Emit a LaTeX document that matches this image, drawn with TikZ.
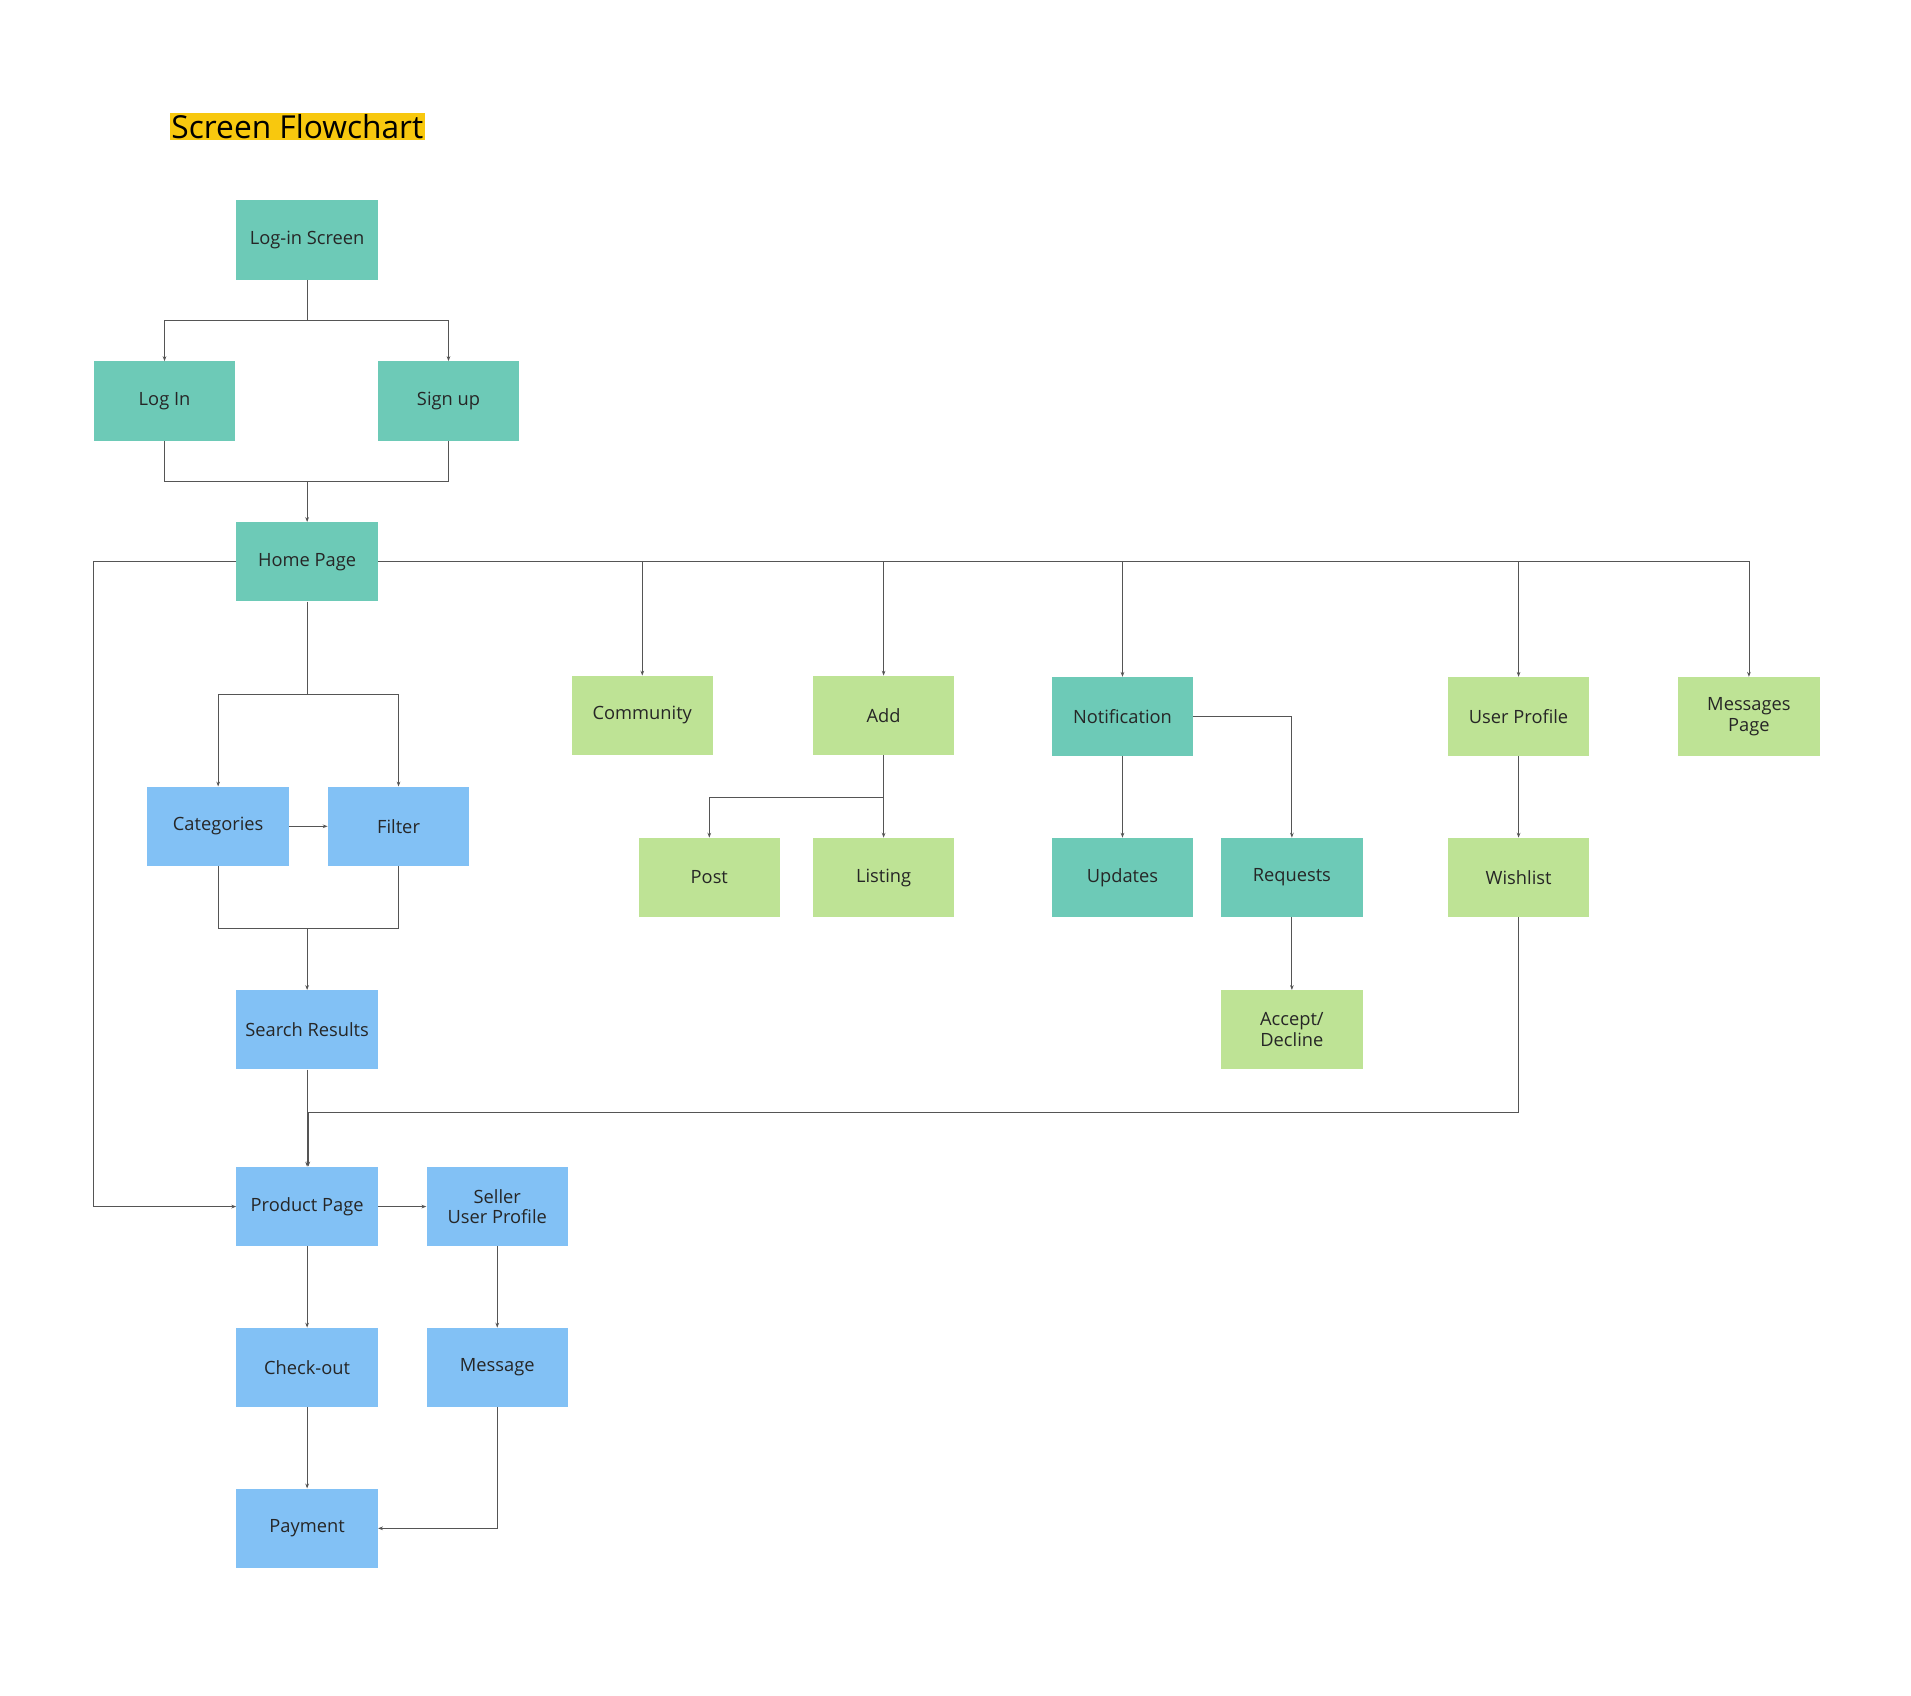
\documentclass[tikz,border=0pt]{standalone}
\usepackage{fontspec}
\setmainfont{Open Sans}
\usetikzlibrary{arrows.meta}
\definecolor{teal1}{HTML}{6DCAB7}
\definecolor{green1}{HTML}{BEE395}
\definecolor{blue1}{HTML}{82C1F5}
\definecolor{ttl}{HTML}{F8C80E}
\definecolor{ln}{HTML}{555555}
\tikzset{
 box/.style={minimum width=116pt,minimum height=65pt,inner sep=2pt,align=center,font=\fontsize{15}{17}\selectfont,text=black!85},
 tb/.style={box,fill=teal1}, gb/.style={box,fill=green1}, bb/.style={box,fill=blue1},
 cn/.style={draw=ln,line width=0.7pt,-{Stealth[length=4pt,width=3pt]}},
 pl/.style={draw=ln,line width=0.7pt}
}
\begin{document}
\begin{tikzpicture}[x=1pt,y=-1pt]
\useasboundingbox[fill=white] (0,0) rectangle (1568,1391);
\node[fill=ttl,inner sep=1pt,font=\fontsize{26}{30}\selectfont] (title) at (244,104) {Screen Flowchart};
\node[tb] (ls) at (252,197) {Log-in Screen};
\node[tb] (li) at (135,329) {Log In};
\node[tb] (su) at (368,329) {Sign up};
\node[tb] (hp) at (252,461) {Home Page};
\node[bb] (cat) at (179,678) {Categories};
\node[bb] (fil) at (327,678) {Filter};
\node[bb] (sr) at (252,845) {Search Results};
\node[bb] (pp) at (252,990) {Product Page};
\node[bb] (sup) at (408,990) {Seller\\User Profile};
\node[bb] (co) at (252,1122) {Check-out};
\node[bb] (msg) at (408,1122) {Message};
\node[bb] (pay) at (252,1254) {Payment};
\node[gb] (com) at (527,587) {Community};
\node[gb] (add) at (725,587) {Add};
\node[tb] (noti) at (921,588) {Notification};
\node[gb] (up) at (1246,588) {User Profile};
\node[gb] (mp) at (1435,588) {Messages\\Page};
\node[gb] (post) at (582,720) {Post};
\node[gb] (lst) at (725,720) {Listing};
\node[tb] (upd) at (921,720) {Updates};
\node[tb] (req) at (1060,720) {Requests};
\node[gb] (wl) at (1246,720) {Wishlist};
\node[gb] (acc) at (1060,845) {Accept/\\Decline};

\draw[cn] (ls.south) -- (252,263) -| (li.north);
\draw[cn] (252,263) -| (su.north);
\draw[pl] (li.south) |- (252,395);
\draw[cn] (su.south) |- (252,395) -- (hp.north);
\draw[cn] (hp.west) -- (77,461) |- (pp.west);
\draw[cn] (hp.east) -- (1435,461) -- (mp.north);
\draw[cn] (527,461) -- (com.north);
\draw[cn] (725,461) -- (add.north);
\draw[cn] (921,461) -- (noti.north);
\draw[cn] (1246,461) -- (up.north);
\draw[cn] (hp.south) -- (252,570) -| (cat.north);
\draw[cn] (252,570) -| (fil.north);
\draw[cn] (cat.east) -- (fil.west);
\draw[pl] (cat.south) |- (252,762);
\draw[cn] (fil.south) |- (252,762) -- (sr.north);
\draw[cn] (sr.south) -- (pp.north);
\draw[cn] (wl.south) |- (253,913) -- (253,957);
\draw[cn] (add.south) -- (725,654) -| (post.north);
\draw[cn] (add.south) -- (lst.north);
\draw[cn] (noti.south) -- (upd.north);
\draw[cn] (noti.east) -| (req.north);
\draw[cn] (req.south) -- (acc.north);
\draw[cn] (up.south) -- (wl.north);
\draw[cn] (pp.east) -- (sup.west);
\draw[cn] (sup.south) -- (msg.north);
\draw[cn] (pp.south) -- (co.north);
\draw[cn] (co.south) -- (pay.north);
\draw[cn] (msg.south) |- (pay.east);
\end{tikzpicture}
\end{document}
